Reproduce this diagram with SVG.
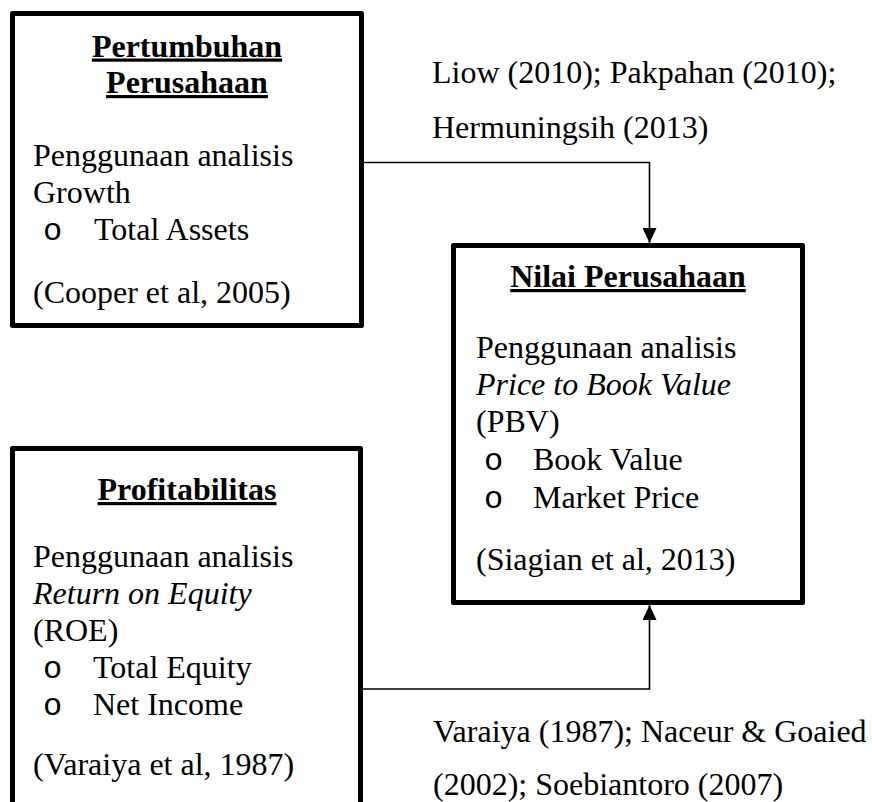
<svg xmlns="http://www.w3.org/2000/svg" width="872" height="802" viewBox="0 0 872 802">
  <style>
    .box { fill: #ffffff; stroke: #000000; stroke-width: 5; stroke-linejoin: round; }
    .t { font-family: "Liberation Serif", "Times New Roman", serif; font-size: 32px; fill: #000000; }
    .h { font-weight: bold; text-decoration: underline; text-anchor: middle; }
    .i { font-style: italic; }
    .b { font-family: "Liberation Mono", "Courier New", monospace; font-size: 32px; fill: #000000; }
    .conn { fill: none; stroke: #000000; stroke-width: 1.6; }
  </style>
  <defs>
    <marker id="arrow" markerUnits="userSpaceOnUse" markerWidth="18" markerHeight="14" refX="15" refY="7" orient="auto">
      <path d="M0,0 L15,7 L0,14 z" fill="#000000"/>
    </marker>
  </defs>
  <rect width="872" height="802" fill="#ffffff"/>

  <g id="connectors">
    <path class="conn" d="M364 162.5 H649.5 V243" marker-end="url(#arrow)"/>
    <path class="conn" d="M363 689 H649.5 V605" marker-end="url(#arrow)"/>
  </g>

  <g id="pertumbuhan">
    <rect class="box" x="12.5" y="13.5" width="349" height="312"/>
    <text class="t h" x="187" y="56.5">Pertumbuhan</text>
    <text class="t h" x="187" y="93">Perusahaan</text>
    <text class="t" x="33" y="166">Penggunaan analisis</text>
    <text class="t" x="33" y="203">Growth</text>
    <text class="b" x="43" y="240">o</text>
    <text class="t" x="94" y="240">Total Assets</text>
    <text class="t" x="33" y="303">(Cooper et al, 2005)</text>
  </g>

  <g id="profitabilitas">
    <rect class="box" x="12.5" y="448.5" width="348" height="372"/>
    <text class="t h" x="187" y="500">Profitabilitas</text>
    <text class="t" x="33" y="567">Penggunaan analisis</text>
    <text class="t i" x="33" y="604">Return on Equity</text>
    <text class="t" x="33" y="641">(ROE)</text>
    <text class="b" x="43" y="678">o</text>
    <text class="t" x="93" y="678">Total Equity</text>
    <text class="b" x="43" y="715">o</text>
    <text class="t" x="93" y="715">Net Income</text>
    <text class="t" x="33" y="775">(Varaiya et al, 1987)</text>
  </g>

  <g id="nilai">
    <rect class="box" x="453.5" y="245.5" width="349" height="357"/>
    <text class="t h" x="628" y="287">Nilai Perusahaan</text>
    <text class="t" x="476" y="358">Penggunaan analisis</text>
    <text class="t i" x="476" y="395">Price to Book Value</text>
    <text class="t" x="476" y="432">(PBV)</text>
    <text class="b" x="484" y="470">o</text>
    <text class="t" x="533" y="470">Book Value</text>
    <text class="b" x="484" y="508">o</text>
    <text class="t" x="533" y="508">Market Price</text>
    <text class="t" x="476" y="570">(Siagian et al, 2013)</text>
  </g>

  <g id="label-top">
    <text class="t" x="432" y="83">Liow (2010); Pakpahan (2010);</text>
    <text class="t" x="432" y="138">Hermuningsih (2013)</text>
  </g>
  <g id="label-bottom">
    <text class="t" x="433" y="742">Varaiya (1987); Naceur &amp; Goaied</text>
    <text class="t" x="433" y="795">(2002); Soebiantoro (2007)</text>
  </g>
</svg>
